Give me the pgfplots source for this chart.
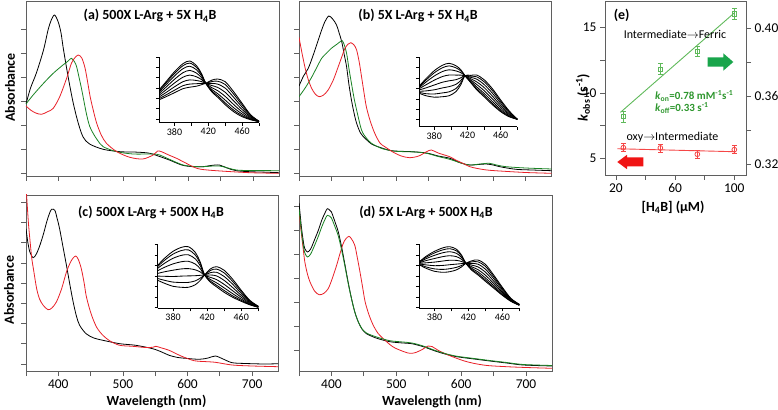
\documentclass[border=0pt]{standalone}
\usepackage{pgfplots}
\pgfplotsset{compat=1.18}
\usepackage{pgfplotstable}
\usepackage{fontspec}
\setmainfont{Carlito}
\definecolor{cred}{RGB}{232,32,40}
\definecolor{cgreen}{RGB}{25,130,35}
\definecolor{egreen}{RGB}{95,185,90}
\definecolor{etext}{RGB}{45,150,45}
\definecolor{ered}{RGB}{245,70,70}
\definecolor{agreen}{RGB}{25,165,75}
\definecolor{ared}{RGB}{240,20,20}
\definecolor{axgray}{RGB}{95,95,95}

\pgfplotstableread{
x t0 t1 t2 t3 t4 t5 t6 t7
362 33 32.2 31 29.4 27.6 25.8 24.2 23
370 41 39.8 38 35.6 32.9 30.2 27.8 26
380 51 49.3 46.8 43.4 39.7 35.9 32.5 30
390 59 57 54 50 45.5 41 37 34
398 61.7 59.6 56.5 52.3 47.6 42.8 38.6 35.5
406 57 55.4 52.9 49.6 45.9 42.2 39 36.5
412 49 48.1 46.8 45 43.1 41.1 39.3 38
417 39.4 39.4 39.4 39.4 39.4 39.4 39.4 39.4
424 31 31.9 33.3 35.1 37.2 39.3 41.1 42.5
431 25.5 27 29.1 32.1 35.3 38.6 41.5 43.7
440 18 19.8 22.6 26.3 30.4 34.6 38.2 41
450 11 12.6 15 18.2 21.8 25.4 28.6 31
460 6 7.1 8.7 10.8 13.2 15.6 17.8 19.4
470 3 3.4 4 4.8 5.7 6.6 7.4 8
480 1 1 1.1 1.2 1.3 1.4 1.4 1.5
}\insetA
\pgfplotstableread{
x t0 t1 t2 t3 t4 t5 t6 t7
362 40.7 40.1 39.2 38.1 36.8 35.4 34.3 33.4
370 48 46.6 44.6 41.9 38.8 35.8 33 31
380 56 53.9 50.7 46.5 41.7 36.9 32.7 29.5
390 61.5 59 55.2 50.2 44.5 38.8 33.8 30
398 63.4 60.8 56.9 51.7 45.9 40.1 34.9 31
406 61 58.9 55.8 51.6 47 42.3 38.1 35
412 57 55.8 54 51.6 48.9 46.2 43.8 42
417 51 51 51 51 51 51 51 51
424 44 44.6 45.5 46.6 47.9 49.3 50.4 51.3
431 37 38.2 39.9 42.3 44.9 47.6 49.9 51.7
440 30 31.4 33.4 36.1 39.2 42.2 45 47
450 22 23.3 25.2 27.8 30.6 33.5 36.1 38
460 15 15.9 17.3 19.2 21.3 23.4 25.3 26.7
470 10 10.5 11.2 12.2 13.2 14.3 15.3 16
480 7.4 7.4 7.4 7.4 7.4 7.4 7.4 7.4
}\insetB
\pgfplotstableread{
x t0 t1 t2 t3 t4 t5 t6 t7
362 43 41.8 40 37.6 34.9 32.2 29.8 28
370 50 48 45 41 36.5 32 28 25
380 57 54.2 50 44.4 38.1 31.8 26.2 22
390 61 57.8 53 46.6 39.4 32.2 25.8 21
398 61.6 58.4 53.5 47 39.7 32.4 25.9 21
406 56 53.4 49.5 44.3 38.5 32.6 27.4 23.5
412 46 44.6 42.4 39.5 36.3 33 30.2 28
417 33.3 33.3 33.3 33.3 33.3 33.3 33.3 33.3
424 26 27.1 28.7 30.9 33.3 35.7 37.9 39.5
431 21.5 23.1 25.5 28.7 32.4 36 39.2 41.6
440 16 17.8 20.4 23.9 27.9 31.8 35.4 38
450 11 12.4 14.6 17.5 20.7 24 26.8 29
460 7 7.9 9.2 11 12.9 14.9 16.7 18
470 3.5 3.9 4.4 5.1 5.9 6.7 7.5 8
480 1 1.1 1.2 1.4 1.5 1.7 1.9 2
}\insetC
\pgfplotstableread{
x t0 t1 t2 t3 t4 t5 t6 t7
362 46.5 46.3 45.9 45.4 44.9 44.3 43.9 43.5
370 52 51 49.6 47.7 45.5 43.4 41.4 40
380 57 55.4 53 49.8 46.2 42.6 39.4 37
390 60.5 58.5 55.6 51.7 47.3 42.9 38.9 36
398 61.6 59.6 56.6 52.6 48.1 43.6 39.6 36.6
406 59 57.4 54.9 51.6 47.9 44.2 41 38.5
412 53 52.1 50.7 48.9 46.8 44.7 42.9 41.5
417 45 45 45 45 45 45 45 45
424 38 38.8 39.9 41.4 43.1 44.8 46.4 47.5
431 33.5 34.7 36.5 38.8 41.5 44.2 46.5 48.3
440 27 28.4 30.4 33.1 36.2 39.2 42 44
450 20 21 22.6 24.7 27 29.4 31.4 33
460 13 13.6 14.6 15.9 17.3 18.8 20 21
470 7 7.2 7.6 8.1 8.6 9.2 9.6 10
480 3 3.1 3.2 3.4 3.5 3.7 3.9 4
}\insetD

\pgfplotsset{
  spec/.style={
    scale only axis, anchor=south west,
    xmin=350, xmax=740, ymin=0,
    xtick={350,400,...,700},
    xticklabels={},
    yticklabels={},
    xtick pos=bottom, ytick pos=left,
    tick align=outside, major tick length=5bp,
    axis line style={axgray, line width=0.8bp},
    tick style={axgray, line width=0.8bp},
    ticklabel style={font=\fontsize{13.5}{14}\selectfont},
    /pgf/number format/assume math mode=true,
    every axis plot/.append style={line width=0.8bp, smooth, no marks},
  },
  inset/.style={
    scale only axis, anchor=south west,
    xmin=362, xmax=480, ymin=0,
    axis x line*=bottom, axis y line*=left,
    xtick={380,420,460}, minor xtick={400,440,480},
    yticklabels={},
    tick align=outside, major tick length=3bp, minor tick length=3bp,
    axis line style={black, line width=0.8bp},
    tick style={black, line width=0.7bp},
    ticklabel style={font=\fontsize{10}{10}\selectfont},
    xticklabel style={yshift=1bp},
    /pgf/number format/assume math mode=true,
    clip=false,
  },
}

\begin{document}
\begin{tikzpicture}
\useasboundingbox (0,0) rectangle (778bp,410bp);

% ---------------- panel (a)
\begin{axis}[spec, at={(26bp,234bp)}, width=253bp, height=175bp, ymax=175,
  ytick={3,27,51,75,99,123,147}]
\addplot[black] coordinates {(350,72) (357,88) (366,103) (377,126) (384,146) (389,156) (394,161) (399.7,154) (404,143) (407.4,128) (415,99) (422.8,73) (430.5,53) (438,39) (448,32) (469,26.7) (495,24.3) (515,24) (530,23.5) (541,22.7) (556,19.5) (571,16) (590,11) (607,9.3) (623,9.3) (635,10.5) (648,11) (660,8) (674,5.3) (695,4.3) (720,3.8) (740,3.3)};
\addplot[cgreen] coordinates {(350,72) (361,81) (377,92.7) (392,102.7) (407,111) (415,115) (420,117.7) (425,114) (428,109.3) (432,98) (436,86) (443,62.7) (448,50) (453.5,42.7) (460,36) (469,29.3) (490,24.3) (515,22) (546,22) (556,21) (570,17) (592,11) (610,9.5) (623,9.3) (648,10) (674,6) (700,5.5) (740,5.3)};
\addplot[cred] coordinates {(350,70) (357,66) (365,63) (374,61.7) (384,64.5) (392,67.7) (402,79.3) (412.6,97.7) (420,112.7) (425,118) (430.5,121) (436,118) (441,108) (445,94) (449,79) (454,65) (459,52.7) (466,41) (474,32.7) (490,24.3) (510,18.7) (530,17) (546,21) (553,25) (560,24) (570,21) (582,17.7) (597,12.7) (610,8.5) (620,6.7) (643,5.3) (695,3.3) (740,2.7)};
\end{axis}
\begin{axis}[inset, at={(159.3bp,287.3bp)}, width=99.7bp, height=65.7bp, ymax=65.7,
  ytick={3.7,14,24.3,34.6,44.9,55.2,65.5}]
\pgfplotsinvokeforeach{1,...,8}{\addplot[black, line width=0.85bp, smooth, no marks] table[x index=0, y index=#1] {\insetA};}
\end{axis}

% ---------------- panel (b)
\begin{axis}[spec, at={(299bp,234bp)}, width=252.5bp, height=175bp, ymax=175,
  ytick={3,27,51,75,99,123,147}]
\addplot[black] coordinates {(350,90) (357,100) (364.3,107.7) (372,121) (379.8,136) (385,146) (390,154.3) (396,160) (402,157) (408,151) (412,143) (416,134.3) (420,121) (423.5,109.3) (427,92) (431,76) (435,63) (439,52.7) (445,43) (452,37.7) (462,32) (472,29.3) (493,25.3) (524,24.3) (547,23) (565,20) (583,17.7) (600,13) (613.5,11) (627,11.5) (639,12) (650,11) (660,9.3) (685,6.7) (710,6) (740,5.3)};
\addplot[cgreen] coordinates {(350,79.3) (360,88.5) (369.5,98.7) (377,108) (385,117.7) (392,122.5) (400,127.7) (408,131.5) (412,133.5) (416.7,135.3) (420,131) (423.5,122.7) (427,108) (431,92.7) (435,78) (439,66) (446.6,46) (454,38) (462,32.7) (477,27.7) (495,25) (513,24.3) (530,24) (547,22.7) (565,19.5) (582.6,16.7) (600,13) (613.5,11) (630,12) (644,12.7) (655,11) (670,9.3) (700,8) (740,7)};
\addplot[cred] coordinates {(350,138.7) (354,125) (359,109.3) (364,97) (369.5,87.7) (375,82) (381,79.3) (388,81) (395,86) (403,96) (410.6,109.3) (416,119) (421,127.7) (426,132) (430,133.3) (435,131) (439,126) (443,114) (446.6,99.3) (450,85) (454,69.3) (460,55) (467,42.7) (475,33) (482.5,29.3) (495,24) (508,20) (521,18.3) (535,20) (547,24.3) (554.5,26) (565,23) (582.6,19.3) (592,16) (603,12.7) (613,9.5) (624,7.7) (640,6) (660,5) (700,3.5) (740,2.7)};
\end{axis}
\begin{axis}[inset, at={(419.3bp,283.3bp)}, width=98bp, height=70bp, ymax=70,
  ytick={7,17.4,27.8,38.2,48.6,59,69.4}]
\pgfplotsinvokeforeach{1,...,8}{\addplot[black, line width=0.85bp, smooth, no marks] table[x index=0, y index=#1] {\insetB};}
\end{axis}

% ---------------- panel (c)
\begin{axis}[spec, at={(26bp,39bp)}, width=252bp, height=176bp, ymax=176,
  ytick={7,27.2,47.4,67.6,87.8,108,128.2,148.4,168.6},
  xticklabels={,400,,500,,600,,700}]
\addplot[black] coordinates {(350,142.3) (353,128) (356,119) (361,113.3) (366,117) (371.5,125.7) (377,137) (382,149) (386,157) (389.5,161.7) (394.6,160.7) (398,153) (402,142.3) (407,125) (412.6,105.7) (418,86) (423,69) (428,55) (433,45.7) (443,37.3) (455,33) (469,30.7) (495,27.3) (520,25.7) (546,22.3) (560,19) (571.5,15.7) (585,13.5) (597,12.7) (618,11.7) (632,13) (643,15) (655,12) (669,8.3) (690,7.5) (720,7) (740,7.3)};
\addplot[cred] coordinates {(350,185) (352,165) (354,146) (357,125) (359,112.3) (362,100) (366.5,82.3) (371,72) (376.6,65.7) (384,61.3) (390,63) (397,69) (405,82) (412.6,99) (419,109) (423,113) (427,115) (431,111.5) (435.6,102.3) (440,88) (443,75.7) (448,63) (453.5,52.3) (460,43) (469,35.7) (480,30) (495,25.7) (515,24.7) (535,23.5) (546,23.7) (551,24.7) (560,23) (571.5,20.7) (590,15) (610,10.3) (625,9.5) (643,8.7) (669,6) (700,5) (740,4.3)};
\end{axis}
\begin{axis}[inset, at={(157.7bp,101.7bp)}, width=100.6bp, height=64bp, ymax=64,
  ytick={0.5,11,21.6,32.2,42.8,53.4,63.9}]
\pgfplotsinvokeforeach{1,...,8}{\addplot[black, line width=0.85bp, smooth, no marks] table[x index=0, y index=#1] {\insetC};}
\end{axis}

% ---------------- panel (d)
\begin{axis}[spec, at={(299bp,39bp)}, width=253bp, height=176bp, ymax=176,
  ytick={21,45,69,93,117,141,165},
  xticklabels={,400,,500,,600,,700}]
\addplot[black] coordinates {(350,168) (352,155) (354,142.3) (357,128) (359,122.3) (363,119) (368,122) (374.6,132.3) (380,141) (385,150.7) (390,158) (393.6,162.3) (397,161) (400,159) (405,150) (410.6,139) (416,123) (421,105.7) (426,88) (431,72.3) (436,59) (441.4,49) (447,42) (454,37.3) (463,34.5) (472,32.3) (490,29.3) (510,28) (524,27.3) (541.5,24.3) (560,20) (575,17) (593,14.3) (620,12) (644,10) (670,8) (695.6,6) (740,5)};
\addplot[cred] coordinates {(350,159) (352,147) (354,135.7) (356.5,122) (359,109) (363,97) (367,89) (374,80) (381,76.3) (388,77.5) (395,82.3) (401,92) (408,105.7) (413,117) (418,127.3) (422,132) (427,134.7) (431,132) (436,125.7) (440,113) (444,99) (448,84) (452,69) (458,56) (464.5,45.7) (472,37.5) (480,32.3) (490,26.5) (498,23) (513,19) (521,17.7) (529,18.3) (540,21.5) (549,25) (555,24.5) (565,20.5) (580,16) (593,12.7) (605,10) (619,7.7) (640,5.5) (670,4.3) (700,3.5) (740,2.7)};
\addplot[cgreen] coordinates {(350,162) (352,150) (354,138) (357,124) (359,118) (363,114) (368,117) (374.6,126.5) (380,135) (385,144) (390,151.5) (393.6,155.7) (397,155) (400,153) (405,145) (410.6,135) (416,120) (421,104) (426,87) (431,72) (436,59) (441.4,49.3) (447,42.3) (454,38) (463,35.5) (472,33.5) (490,30.3) (510,29) (524,28) (541.5,25) (560,20.5) (575,17.5) (593,14.8) (620,12.5) (644,10.5) (670,8.5) (695.6,6.5) (740,5.5)};
\end{axis}
\begin{axis}[inset, at={(419.3bp,101.7bp)}, width=100bp, height=64bp, ymax=64,
  ytick={0.5,11,21.6,32.2,42.8,53.4,63.9}]
\pgfplotsinvokeforeach{1,...,8}{\addplot[black, line width=0.85bp, smooth, no marks] table[x index=0, y index=#1] {\insetD};}
\end{axis}

% ---------------- panel (e)
\begin{axis}[scale only axis, anchor=south west, at={(605bp,235bp)}, width=141bp, height=174bp,
  xmin=12.6, xmax=107.9, ymin=3.72, ymax=17.04,
  xtick={20,60,100}, minor xtick={40,80},
  ytick={5,10,15}, minor ytick={7.5,12.5},
  xtick pos=bottom, ytick pos=left,
  tick align=outside, major tick length=5bp, minor tick length=5bp,
  axis line style={axgray, line width=0.8bp},
  tick style={axgray, line width=0.8bp},
  ticklabel style={font=\fontsize{13.5}{14}\selectfont},
  /pgf/number format/assume math mode=true,
  clip=false]
\addplot[ered, line width=0.9bp, no marks] coordinates {(21,5.73) (101,5.5)};
\addplot[ered, only marks, mark=o, mark size=2.4bp, mark options={line width=0.8bp},
  error bars/.cd, y dir=both, y explicit,
  error bar style={line width=0.7bp, ered},
  error mark options={rotate=90, mark size=2.2bp, ered, line width=0.7bp}]
  coordinates {(25,5.81) +- (0,0.3) (50,5.79) +- (0,0.3) (75,5.31) +- (0,0.3) (100,5.66) +- (0,0.3)};
\end{axis}
\begin{axis}[scale only axis, anchor=south west, at={(605bp,235bp)}, width=141bp, height=174bp,
  xmin=12.6, xmax=107.9, ymin=0.3137, ymax=0.416,
  axis x line=none, axis y line*=right,
  ytick={0.32,0.36,0.40}, minor ytick={0.34,0.38},
  yticklabel style={/pgf/number format/.cd, fixed, fixed zerofill, precision=2},
  tick align=outside, major tick length=5bp, minor tick length=5bp,
  axis line style={axgray, line width=0.8bp},
  tick style={axgray, line width=0.8bp},
  ticklabel style={font=\fontsize{13.5}{14}\selectfont},
  /pgf/number format/assume math mode=true,
  clip=false]
\addplot[egreen, line width=0.9bp, no marks] coordinates {(23,0.3505) (100,0.409)};
\addplot[egreen, only marks, mark=square, mark size=2.2bp, mark options={line width=0.8bp},
  error bars/.cd, y dir=both, y explicit,
  error bar style={line width=0.7bp, egreen},
  error mark options={rotate=90, mark size=2.2bp, egreen, line width=0.7bp}]
  coordinates {(25,0.348) +- (0,0.0032) (50,0.3759) +- (0,0.0032) (75,0.3862) +- (0,0.003) (100,0.4084) +- (0,0.0032)};
\end{axis}

% ---------------- text
\begin{scope}[every node/.style={inner sep=0pt}]
\node[font=\bfseries\fontsize{14}{14}\selectfont] at (150bp,394bp) {(a) 500X L-Arg + 5X H\textsubscript{4}B};
\node[font=\bfseries\fontsize{14}{14}\selectfont] at (418bp,394bp) {(b) 5X L-Arg + 5X H\textsubscript{4}B};
\node[font=\bfseries\fontsize{14}{14}\selectfont] at (151bp,197.3bp) {(c) 500X L-Arg + 500X H\textsubscript{4}B};
\node[font=\bfseries\fontsize{14}{14}\selectfont] at (426bp,197.3bp) {(d) 5X L-Arg + 500X H\textsubscript{4}B};
\node[font=\bfseries\fontsize{14}{14}\selectfont, rotate=90] at (10bp,322.5bp) {Absorbance};
\node[font=\bfseries\fontsize{14}{14}\selectfont, rotate=90] at (9bp,120bp) {Absorbance};
\node[font=\bfseries\fontsize{14}{14}\selectfont] at (156.5bp,8.3bp) {Wavelength (nm)};
\node[font=\bfseries\fontsize{14}{14}\selectfont] at (432bp,8.3bp) {Wavelength (nm)};
\node[font=\bfseries\fontsize{14}{14}\selectfont] at (621.7bp,395bp) {(e)};
\node[font=\fontsize{12}{12}\selectfont] at (675bp,375.7bp) {Intermediate$\rightarrow$Ferric};
\node[font=\fontsize{12}{12}\selectfont] at (672.5bp,273bp) {oxy$\rightarrow$Intermediate};
\node[font=\bfseries\fontsize{11}{11}\selectfont, text=etext, anchor=west] at (655bp,314bp) {\textit{k}\textsubscript{on}=0.78 mM\textsuperscript{-1}s\textsuperscript{-1}};
\node[font=\bfseries\fontsize{11}{11}\selectfont, text=etext, anchor=west] at (655bp,302bp) {\textit{k}\textsubscript{off}=0.33 s\textsuperscript{-1}};
\node[font=\bfseries\fontsize{14}{14}\selectfont, rotate=90] at (583bp,312.5bp) {\textit{k}\textsubscript{obs} (s\textsuperscript{-1})};
\node[font=\bfseries\fontsize{14}{14}\selectfont] at (673bp,203bp) {[H\textsubscript{4}B] (µM)};
\end{scope}
% arrows
\fill[agreen] (707.7bp,343.3bp) -- (723.3bp,343.3bp) -- (723.3bp,339.3bp) -- (733.3bp,348bp) -- (723.3bp,356.7bp) -- (723.3bp,352.7bp) -- (707.7bp,352.7bp) -- cycle;
\fill[ared] (643.3bp,243.5bp) -- (627bp,243.5bp) -- (627bp,240.8bp) -- (617.3bp,248bp) -- (627bp,255.2bp) -- (627bp,252.5bp) -- (643.3bp,252.5bp) -- cycle;
\end{tikzpicture}
\end{document}
